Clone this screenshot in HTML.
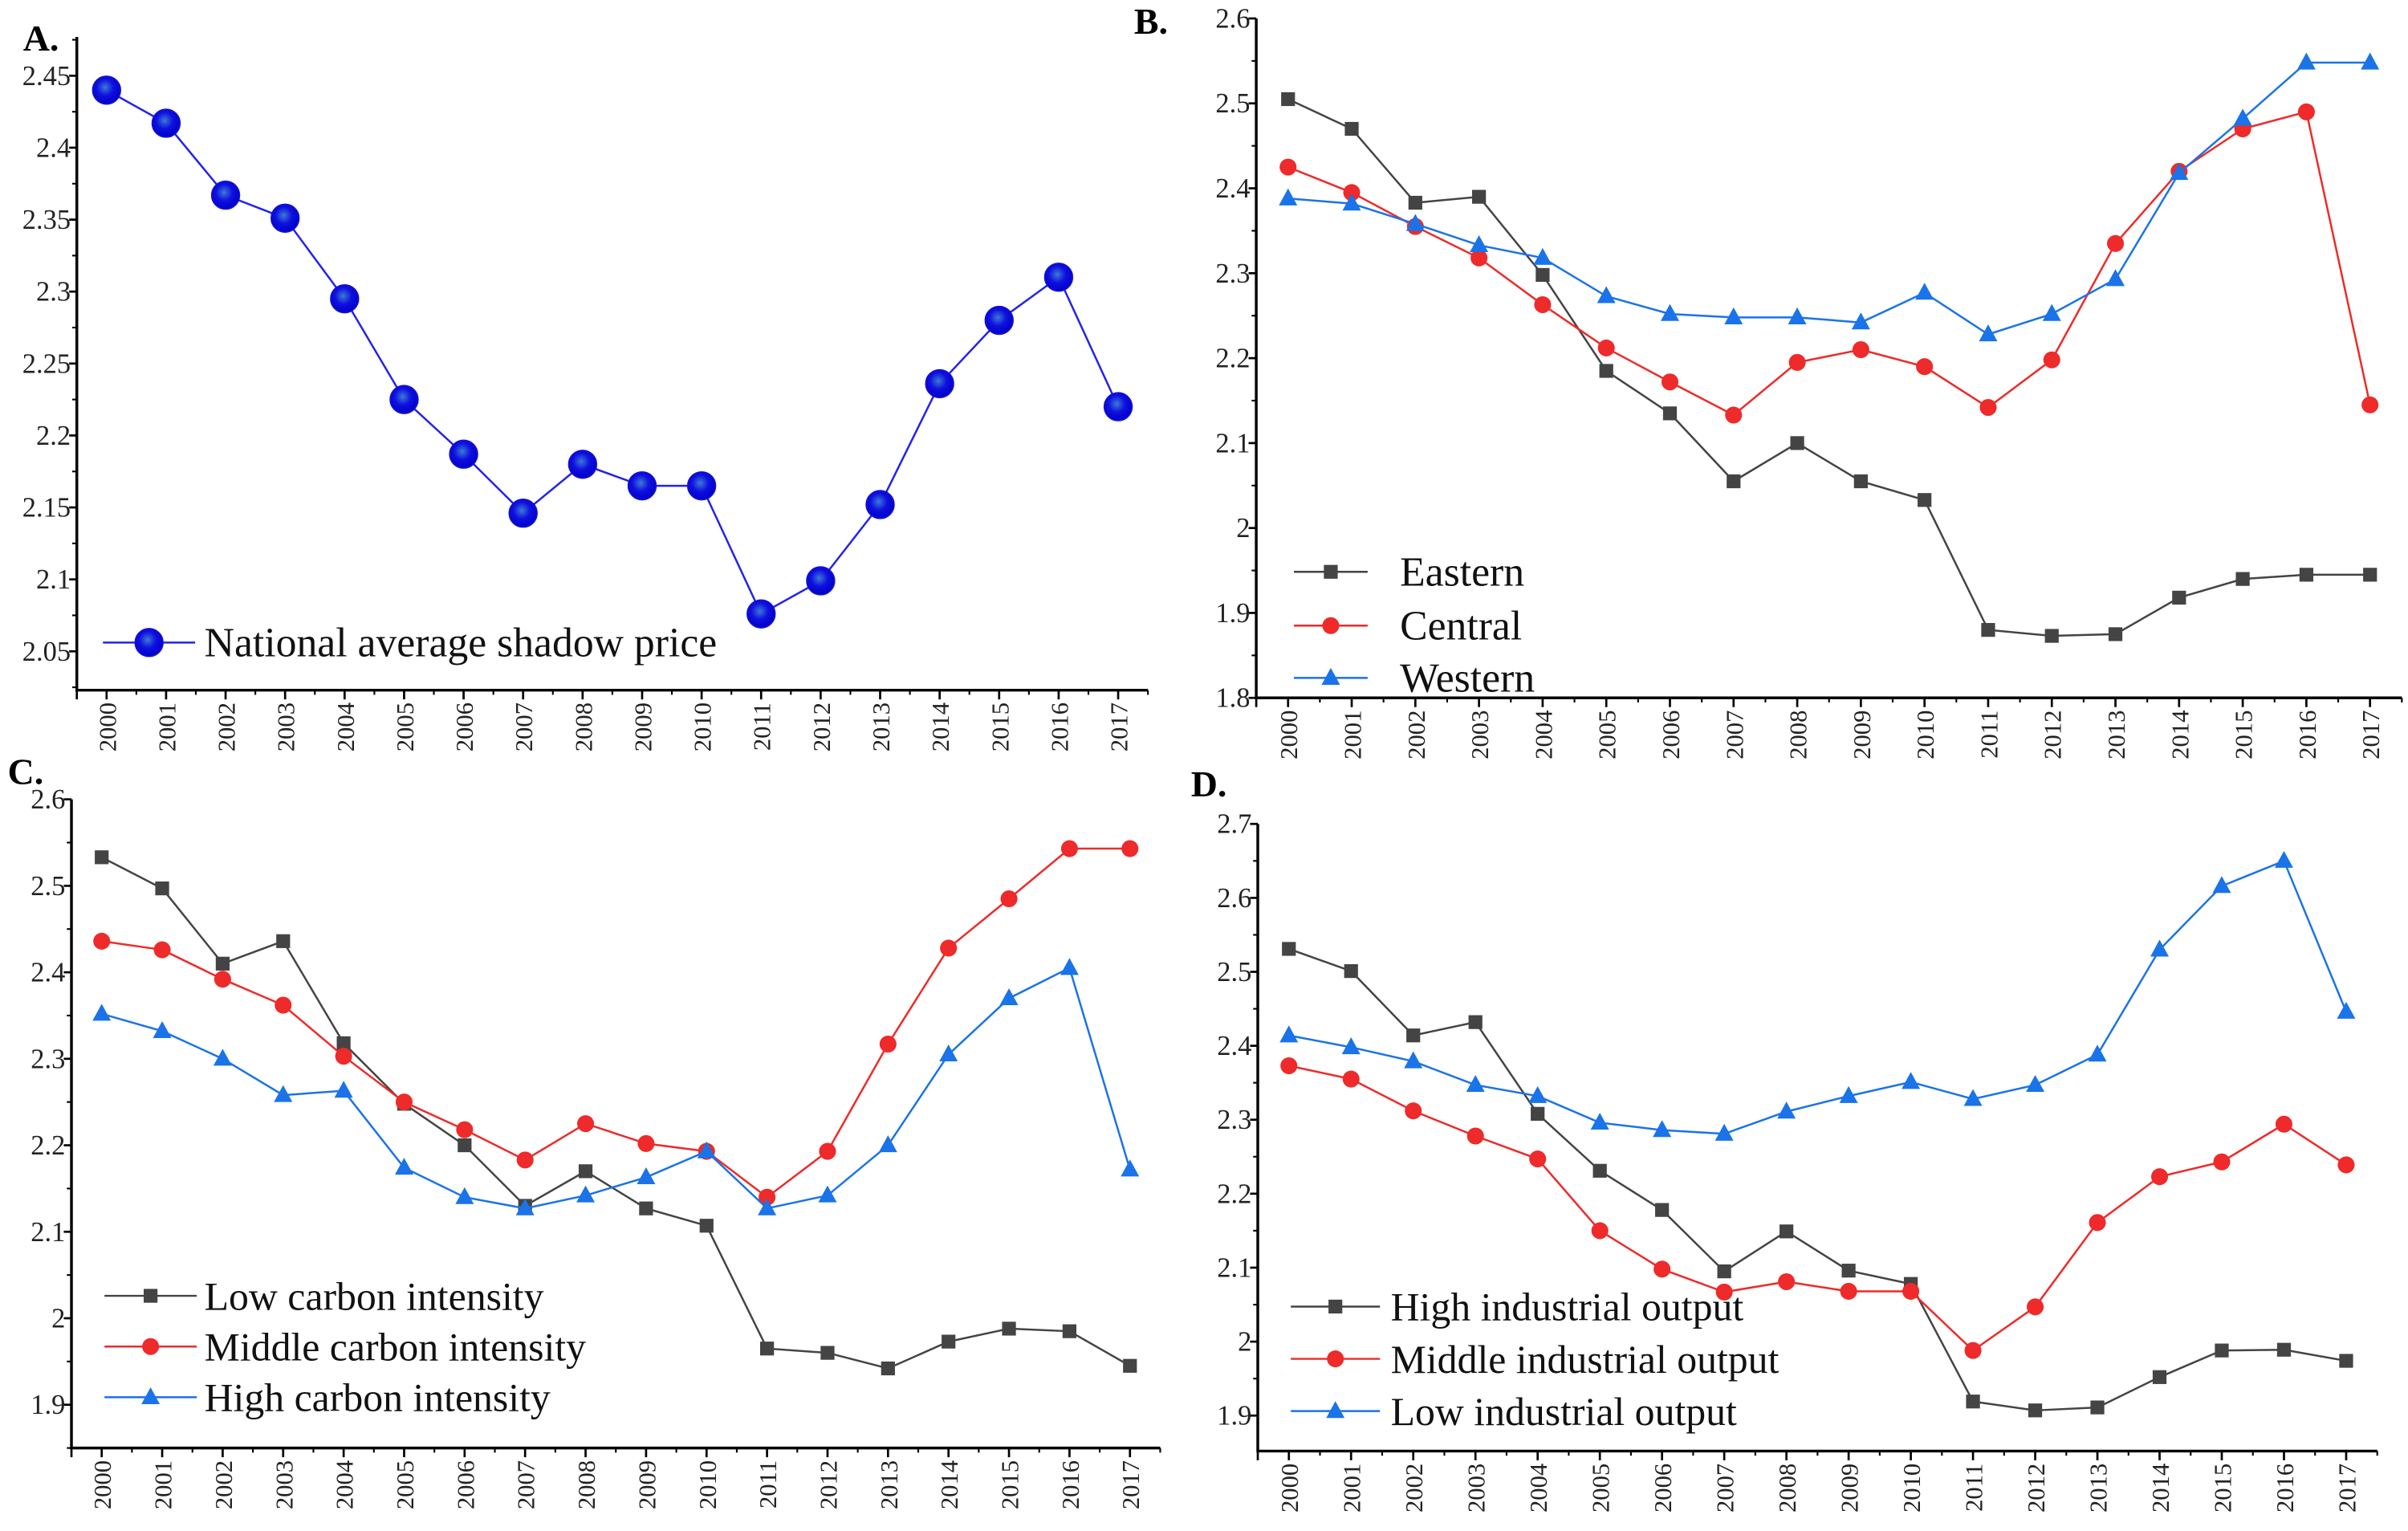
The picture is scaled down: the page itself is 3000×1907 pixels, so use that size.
<!DOCTYPE html>
<html><head><meta charset="utf-8"><style>
html,body{margin:0;padding:0;background:#fff;}
svg{display:block;font-family:"Liberation Serif",serif;}
</style></head><body>
<svg id="chart" width="3000" height="1907" viewBox="0 0 1567 996" preserveAspectRatio="none" xmlns="http://www.w3.org/2000/svg">
<defs>
<radialGradient id="ballGrad" cx="0.45" cy="0.4" r="0.6">
<stop offset="0" stop-color="#3a7bd5"/><stop offset="0.5" stop-color="#1010e0"/><stop offset="1" stop-color="#0000c8"/>
</radialGradient>
</defs>
</svg>
<script>
const years = ["2000","2001","2002","2003","2004","2005","2006","2007","2008","2009","2010","2011","2012","2013","2014","2015","2016","2017"];
const nationalAvg = [2.44,2.417,2.367,2.351,2.295,2.225,2.187,2.146,2.18,2.165,2.165,2.076,2.099,2.152,2.236,2.28,2.31,2.22];
const eastern = [2.505,2.47,2.383,2.39,2.298,2.185,2.135,2.055,2.1,2.055,2.033,1.88,1.873,1.875,1.918,1.94,1.945,1.945];
const central = [2.425,2.395,2.355,2.318,2.263,2.212,2.172,2.133,2.195,2.21,2.19,2.142,2.198,2.335,2.42,2.47,2.49,2.145];
const western = [2.388,2.382,2.358,2.333,2.318,2.273,2.252,2.248,2.248,2.242,2.277,2.228,2.252,2.293,2.418,2.482,2.548,2.548];
const lowCarbon = [2.533,2.497,2.41,2.436,2.318,2.248,2.2,2.13,2.17,2.127,2.107,1.965,1.96,1.942,1.973,1.988,1.985,1.945];
const midCarbon = [2.436,2.426,2.392,2.362,2.303,2.25,2.218,2.183,2.225,2.202,2.193,2.14,2.193,2.317,2.428,2.485,2.543,2.543];
const highCarbon = [2.352,2.332,2.3,2.258,2.263,2.174,2.14,2.127,2.142,2.163,2.193,2.127,2.142,2.2,2.305,2.37,2.405,2.172];
const highInd = [2.531,2.501,2.414,2.432,2.308,2.231,2.178,2.095,2.149,2.096,2.078,1.919,1.907,1.911,1.952,1.988,1.989,1.974];
const midInd = [2.373,2.355,2.312,2.278,2.247,2.15,2.098,2.067,2.081,2.068,2.068,1.988,2.047,2.161,2.223,2.243,2.294,2.239];
const lowInd = [2.414,2.398,2.379,2.347,2.332,2.296,2.286,2.281,2.311,2.332,2.351,2.328,2.347,2.388,2.53,2.616,2.65,2.446];
const ticksA = ["2.05","2.1","2.15","2.2","2.25","2.3","2.35","2.4","2.45"];
const ticksB = ["1.8","1.9","2","2.1","2.2","2.3","2.4","2.5","2.6"];
const ticksC = ["1.9","2","2.1","2.2","2.3","2.4","2.5","2.6"];
const ticksD = ["1.9","2","2.1","2.2","2.3","2.4","2.5","2.6","2.7"];

const NS="http://www.w3.org/2000/svg";
const svg=document.getElementById('chart');
function mk(tag,attrs,parent){const e=document.createElementNS(NS,tag);for(const k in attrs)e.setAttribute(k,attrs[k]);(parent||svg).appendChild(e);return e;}

const panels=[
 {id:'a',label:'A.',lx:15,ly:33,x0:50,x1:747,yTop:24,yBot:449,vTop:2.477,vBot:2.023,ticks:ticksA,minorStep:0.025,
  series:[{name:'National average shadow price',data:nationalAvg,color:'#2222ee',marker:'ball'}],
  leg:{x1:67,x2:127,tx:133,ys:[418],fs:27}},
 {id:'b',label:'B.',lx:738,ly:22,x0:817.5,x1:1563,yTop:12,yBot:454,vTop:2.6,vBot:1.8,ticks:ticksB,minorStep:0.05,
  series:[{name:'Eastern',data:eastern,color:'#444',marker:'square'},{name:'Central',data:central,color:'#ee2a2a',marker:'circle'},{name:'Western',data:western,color:'#1a73e8',marker:'tri'}],
  leg:{x1:842,x2:890,tx:911,ys:[372,407,441],fs:27}},
 {id:'c',label:'C.',lx:5,ly:510,x0:46.5,x1:755,yTop:520,yBot:942,vTop:2.6,vBot:1.85,ticks:ticksC,minorStep:0.05,
  series:[{name:'Low carbon intensity',data:lowCarbon,color:'#444',marker:'square'},{name:'Middle carbon intensity',data:midCarbon,color:'#ee2a2a',marker:'circle'},{name:'High carbon intensity',data:highCarbon,color:'#1a73e8',marker:'tri'}],
  leg:{x1:68,x2:128,tx:133,ys:[843,876,909],fs:26}},
 {id:'d',label:'D.',lx:775,ly:518,x0:818.5,x1:1547,yTop:536,yBot:944,vTop:2.7,vBot:1.852,ticks:ticksD,minorStep:0.05,
  series:[{name:'High industrial output',data:highInd,color:'#444',marker:'square'},{name:'Middle industrial output',data:midInd,color:'#ee2a2a',marker:'circle'},{name:'Low industrial output',data:lowInd,color:'#1a73e8',marker:'tri'}],
  leg:{x1:840,x2:898,tx:905,ys:[850,884,918],fs:26}}
];

function marker(g,type,x,y,color){
 let m;
 if(type==='ball'){m=mk('circle',{cx:x,cy:y,r:9,fill:'url(#ballGrad)',stroke:'#1010d0','stroke-width':1},g);}
 else if(type==='square'){m=mk('rect',{x:x-4.5,y:y-4.5,width:9,height:9,fill:color},g);}
 else if(type==='circle'){m=mk('circle',{cx:x,cy:y,r:5.5,fill:color},g);}
 else {m=mk('polygon',{points:`${x},${y-6.5} ${x-6},${y+4.5} ${x+6},${y+4.5}`,fill:color},g);}
 return m;
}

panels.forEach(p=>{
 const g=mk('g',{});
 
 
 const n=years.length;
 const xs=i=>p.x0+(p.x1-p.x0)*(i+0.5)/n;
 const ys=v=>p.yBot+(v-p.vBot)/(p.vTop-p.vBot)*(p.yTop-p.yBot);
 const lab=mk('text',{x:p.lx,y:p.ly,'font-size':24,'font-weight':'bold',fill:'#000'},g);
 lab.textContent=p.label;
 
 
 const ax=mk('path',{d:`M${p.x0},${p.yTop}V${p.yBot}H${p.x1}`,fill:'none',stroke:'#000','stroke-width':1.8},g);
 
 
 p.ticks.forEach(t=>{
  const v=parseFloat(t),y=ys(v);
  mk('line',{x1:p.x0-5,x2:p.x0,y1:y,y2:y,stroke:'#000','stroke-width':1.4},g);
  const tx=mk('text',{x:p.x0-4,y:y+6,'font-size':18,'text-anchor':'end',fill:'#222'},g);
  tx.textContent=t;
  
  
 });
 for(let v=p.vBot+1e-9;v<p.vTop;v+=p.minorStep){
  const vr=Math.round(v/p.minorStep)*p.minorStep;
  if(vr<p.vBot||vr>p.vTop)continue;
  const y=ys(vr);
  mk('line',{x1:p.x0-3,x2:p.x0,y1:y,y2:y,stroke:'#000','stroke-width':1.1},g);
 }
 years.forEach((yr,i)=>{
  const x=xs(i);
  mk('line',{x1:x,x2:x,y1:p.yBot,y2:p.yBot+6,stroke:'#000','stroke-width':1.4},g);
  mk('line',{x1:x+(p.x1-p.x0)/n/2,x2:x+(p.x1-p.x0)/n/2,y1:p.yBot,y2:p.yBot+3,stroke:'#000','stroke-width':1.1},g);
  const tx=mk('text',{x:0,y:0,'font-size':16,'text-anchor':'end',fill:'#222',transform:`translate(${x+6},${p.yBot+8}) rotate(-90)`},g);
  tx.textContent=yr;
  
  
 });
 mk('line',{x1:p.x0,x2:p.x0,y1:p.yBot,y2:p.yBot+6,stroke:'#000','stroke-width':1.4},g);
 p.series.forEach((s,si)=>{
  const sg=mk('g',{},g);
  
  
  const pts=s.data.map((v,i)=>xs(i)+','+ys(v)).join(' ');
  mk('polyline',{points:pts,fill:'none',stroke:s.color,'stroke-width':1.3},sg);
  s.data.forEach((v,i)=>{
   const m=marker(sg,s.marker,xs(i),ys(v),s.color);
   
   
  });
  const L=p.leg, ly=L.ys[si];
  const lg=mk('g',{},g);
  
  
  mk('line',{x1:L.x1,x2:L.x2,y1:ly,y2:ly,stroke:s.color,'stroke-width':1.3},lg);
  marker(lg,s.marker,(L.x1+L.x2)/2,ly,s.color);
  const lt=mk('text',{x:L.tx,y:ly+9,'font-size':L.fs,fill:'#111'},lg);
  lt.textContent=s.name;
 });
});
</script>
</body></html>
